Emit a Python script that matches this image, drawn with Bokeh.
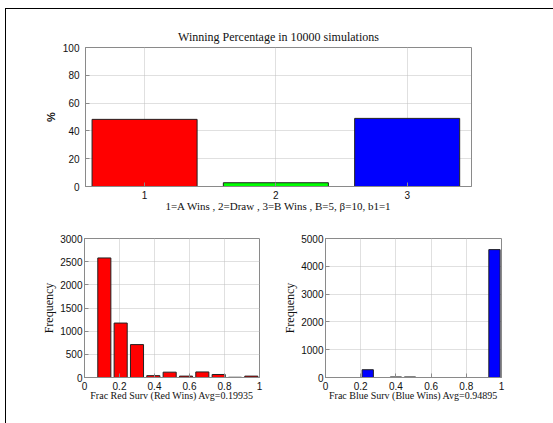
from bokeh.plotting import figure
from bokeh.layouts import column, row
from bokeh.models import FixedTicker, ColumnDataSource
from bokeh.embed import file_html
from bokeh.resources import INLINE

# ---- data ----
outcomes = [1, 2, 3]
win_pct = [48.3, 2.7, 49.0]
win_colors = ["#ff0000", "#00ff00", "#0000ff"]

red_centers = [0.1133, 0.2067, 0.3, 0.3933, 0.4867, 0.58, 0.6733, 0.7667, 0.86, 0.9533]
red_counts = [2580, 1175, 710, 40, 115, 30, 120, 65, 5, 30]
red_bar_width = 0.0747

blue_centers = [0.24, 0.32, 0.40, 0.48, 0.56, 0.64, 0.72, 0.80, 0.88, 0.96]
blue_counts = [280, 0, 20, 20, 0, 0, 0, 0, 0, 4600]
blue_bar_width = 0.064

top_yticks = [0, 20, 40, 60, 80, 100]
hist_xticks = [0, 0.2, 0.4, 0.6, 0.8, 1]
red_yticks = [0, 500, 1000, 1500, 2000, 2500, 3000]
blue_yticks = [0, 1000, 2000, 3000, 4000, 5000]

SERIF = "Liberation Serif"
SANS = "Liberation Sans"
AXIS_COLOR = "#8a8a8a"


def style(p, xticks, yticks, xlabel, ylabel, ylabel_style="normal", ylabel_font=SERIF):
    p.outline_line_color = AXIS_COLOR
    p.xaxis.ticker = FixedTicker(ticks=xticks)
    p.yaxis.ticker = FixedTicker(ticks=yticks)
    for ax in (p.xaxis[0], p.yaxis[0]):
        ax.axis_line_color = AXIS_COLOR
        ax.major_tick_line_color = AXIS_COLOR
        ax.major_tick_in = 4
        ax.major_tick_out = 0
        ax.minor_tick_line_color = None
        ax.major_label_text_font = SANS
        ax.major_label_text_font_size = "10px"
        ax.major_label_text_color = "#111111"
        ax.axis_label_text_font_style = "normal"
        ax.axis_label_text_color = "#111111"
    p.xaxis.major_label_standoff = 4
    p.yaxis.major_label_standoff = 2
    p.xaxis.axis_label = xlabel
    p.xaxis.axis_label_text_font = SERIF
    p.xaxis.axis_label_text_font_size = "10px"
    p.xaxis.axis_label_standoff = -3
    p.yaxis.axis_label = ylabel
    p.yaxis.axis_label_text_font = ylabel_font
    p.yaxis.axis_label_text_font_size = "12px"
    p.yaxis.axis_label_text_font_style = ylabel_style
    p.yaxis.axis_label_standoff = 1
    p.xgrid.ticker = FixedTicker(ticks=xticks)
    p.ygrid.ticker = FixedTicker(ticks=yticks)
    for g in (p.xgrid[0], p.ygrid[0]):
        g.grid_line_color = "#c0c0c0"
        g.grid_line_dash = "1 1"
        g.grid_line_width = 1
    p.toolbar.logo = None


# ---- top: winning percentage ----
top = figure(width=547, height=216, x_range=(0.55, 3.49), y_range=(0, 100),
             output_backend="svg", toolbar_location=None,
             min_border_left=79, min_border_right=82, min_border_top=38, min_border_bottom=39,
             title="Winning Percentage in 10000 simulations")
top.title.align = "center"
top.title.text_font = SERIF
top.title.text_font_size = "12px"
top.title.text_font_style = "normal"
top.title.text_color = "#111111"
top.title.standoff = 7
src_top = ColumnDataSource(dict(x=outcomes, top=win_pct, color=win_colors))
top.vbar(x="x", top="top", width=0.8, bottom=0, fill_color="color", line_color="#222222",
         line_width=1, source=src_top)
style(top, outcomes, top_yticks,
      "1=A Wins , 2=Draw , 3=B Wins , B=5, \u03b2=10, b1=1", "%",
      ylabel_style="bold", ylabel_font=SANS)
top.xaxis[0].axis_label_text_font_size = "11px"
top.xaxis[0].axis_label_standoff = -2
top.yaxis[0].axis_label_text_font_size = "11px"
top.yaxis[0].major_label_standoff = 6
top.yaxis[0].axis_label_standoff = 3

# ---- bottom left: red surviving fraction ----
bl = figure(width=273, height=198, x_range=(0, 1), y_range=(0, 3000),
            output_backend="svg", toolbar_location=None,
            min_border_left=78, min_border_right=20, min_border_top=13, min_border_bottom=46)
bl.vbar(x=red_centers, top=red_counts, width=red_bar_width, bottom=0,
        fill_color="#ff0000", line_color="#222222", line_width=1)
style(bl, hist_xticks, red_yticks, "Frac Red Surv (Red Wins) Avg=0.19935", "Frequency")

# ---- bottom right: blue surviving fraction ----
br = figure(width=274, height=198, x_range=(0, 1), y_range=(0, 5000),
            output_backend="svg", toolbar_location=None,
            min_border_left=46, min_border_right=52, min_border_top=13, min_border_bottom=46)
br.vbar(x=blue_centers, top=blue_counts, width=blue_bar_width, bottom=0,
        fill_color="#0000ff", line_color="#222222", line_width=1)
style(br, hist_xticks, blue_yticks, "Frac Blue Surv (Blue Wins) Avg=0.94895", "Frequency")

layout = column(top, row(bl, br, spacing=0), spacing=0,
                styles={"margin-left": "5px", "margin-top": "8px",
                        "border-left": "1px solid #000000",
                        "border-top": "1px solid #000000"})

open("out.html", "w").write(file_html(layout, INLINE))
